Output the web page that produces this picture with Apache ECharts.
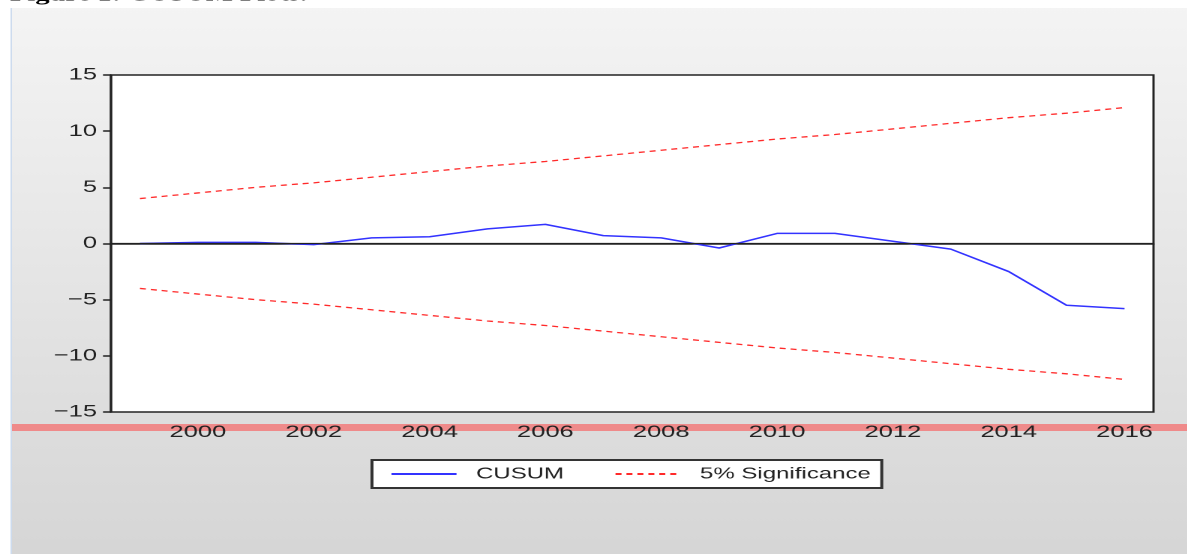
<!DOCTYPE html>
<html>
<head>
<meta charset="utf-8">
<script src="https://cdn.jsdelivr.net/npm/echarts@6/dist/echarts.min.js"></script>
<style>
  html, body { margin: 0; padding: 0; background: #fff; overflow: hidden; }
  /* the original graphic is stretched sideways, so draw narrow and widen it */
  #main { width: 791.33px; height: 554px; transform: scaleX(1.5); transform-origin: 0 0; }
</style>
</head>
<body>
<div id="main"></div>
<script>
// annual observations 1999-2016
var years = ['1999', '2000', '2001', '2002', '2003', '2004', '2005', '2006', '2007',
             '2008', '2009', '2010', '2011', '2012', '2013', '2014', '2015', '2016'];
var cusum = [0.0, 0.1, 0.1, -0.1, 0.5, 0.6, 1.3, 1.7, 0.7,
             0.5, -0.4, 0.9, 0.9, 0.2, -0.5, -2.5, -5.5, -5.8];
var upper5 = [4.0, 4.5, 5.0, 5.4, 5.9, 6.4, 6.9, 7.3, 7.8,
              8.3, 8.8, 9.3, 9.7, 10.2, 10.7, 11.2, 11.6, 12.1];
var lower5 = [-4.0, -4.5, -5.0, -5.4, -5.9, -6.4, -6.9, -7.3, -7.8,
              -8.3, -8.8, -9.3, -9.7, -10.2, -10.7, -11.2, -11.6, -12.1];
var yTicks = [-15, -10, -5, 0, 5, 10, 15];

var SX = 1.5;
function px(x) { return x / SX; }   // screen x -> chart x

var chart = echarts.init(document.getElementById('main'), null, { devicePixelRatio: 2 });

var labelFont = {
  fontFamily: 'Liberation Sans, Arial, sans-serif',
  fontSize: 17,
  color: '#222'
};
var redDash = { color: '#ff2a2a', width: 1.3, type: [4, 3.3] };

var option = {
  animation: false,
  backgroundColor: '#ffffff',
  graphic: [
    {
      // caption cut off by the top edge
      type: 'text', z: -3, left: px(10), top: -14,
      style: { text: 'Figure 1: CUSUM Plots.', font: 'bold 19px "Liberation Serif", serif', fill: '#000' }
    },
    {
      type: 'rect', z: -2, shape: { x: px(12), y: 8, width: px(1175), height: 546 },
      style: {
        fill: new echarts.graphic.LinearGradient(0, 0, 0, 1, [
          { offset: 0, color: '#f4f4f4' },
          { offset: 1, color: '#d6d6d6' }
        ])
      }
    },
    { type: 'rect', z: -1, shape: { x: px(10.5), y: 8, width: 1, height: 546 }, style: { fill: '#cddbee' } },
    { type: 'rect', z: -1, shape: { x: px(12), y: 424, width: px(1175), height: 7 }, style: { fill: '#ef8a8a' } }
  ],
  grid: {
    left: px(111), right: px(33), top: 75, bottom: 142,
    show: true, backgroundColor: '#fff', borderColor: '#222', borderWidth: 1.5
  },
  legend: {
    left: px(372), top: 460,
    padding: [6, px(11), 6, px(18)],
    itemGap: px(50),
    itemWidth: px(65),
    itemHeight: 14,
    backgroundColor: '#fff',
    borderColor: '#333',
    borderWidth: 2,
    borderRadius: 0,
    itemStyle: { opacity: 0 },
    textStyle: { fontFamily: 'Liberation Sans, Arial, sans-serif', fontSize: 16, color: '#222', padding: [0, 0, 0, px(12)] },
    data: ['CUSUM', '5% Significance']
  },
  xAxis: {
    type: 'category',
    data: years,
    boundaryGap: true,
    axisLine: { lineStyle: { color: '#222', width: 1.5 } },
    axisTick: { interval: 0, length: 5, lineStyle: { color: '#222', width: 1.5 } },
    axisLabel: Object.assign({
      margin: 12,
      interval: function (idx) { return idx % 2 === 1; }
    }, labelFont),
    splitLine: { show: false }
  },
  yAxis: {
    type: 'value',
    min: yTicks[0], max: yTicks[yTicks.length - 1], interval: 5,
    axisLine: { show: true, lineStyle: { color: '#222', width: 1.5 } },
    axisTick: { show: true, length: px(8), lineStyle: { color: '#222', width: 1.5 } },
    axisLabel: Object.assign({
      margin: px(14),
      formatter: function (v) { return String(v).replace('-', '\u2212'); }
    }, labelFont),
    splitLine: { show: false }
  },
  series: [
    {
      name: 'CUSUM', type: 'line', data: cusum, symbol: 'none', z: 3,
      lineStyle: { color: '#3333ff', width: 1.5 },
      itemStyle: { color: '#3333ff' },
      markLine: {
        silent: true, symbol: 'none', label: { show: false },
        lineStyle: { color: '#222', width: 1.2, type: 'solid' },
        data: [{ yAxis: 0 }]
      }
    },
    {
      name: '5% Significance', type: 'line', data: upper5, symbol: 'none',
      lineStyle: redDash, itemStyle: { color: '#ff2a2a' }
    },
    {
      name: '5% Significance', type: 'line', data: lower5, symbol: 'none',
      lineStyle: redDash, itemStyle: { color: '#ff2a2a' }
    }
  ]
};

chart.setOption(option);
</script>
</body>
</html>
